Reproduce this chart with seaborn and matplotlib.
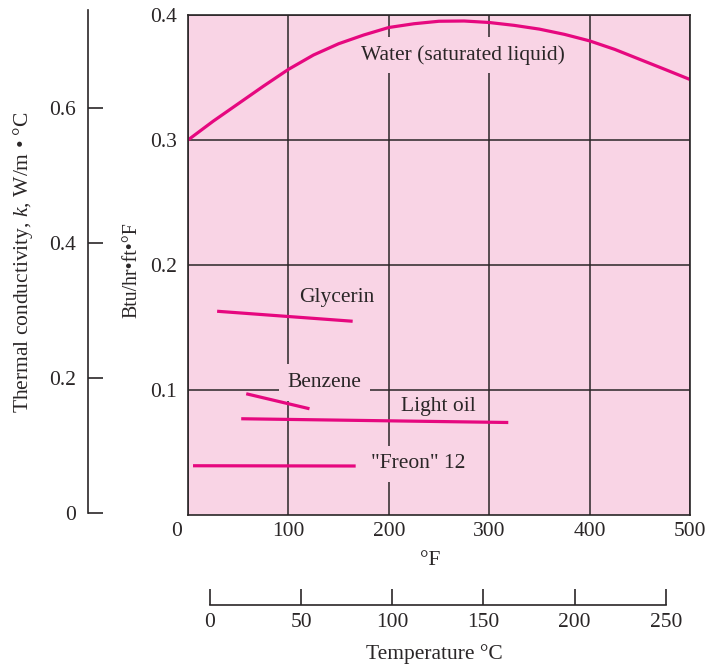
import numpy as np
import pandas as pd
import matplotlib
matplotlib.use("Agg")
import matplotlib.pyplot as plt
import matplotlib.transforms as mtransforms
import seaborn as sns

# =========================================================
# DATA
# =========================================================

water_f = [0, 25, 50, 75, 100, 125, 150, 175, 200, 225, 250, 275, 300,
           325, 350, 375, 400, 425, 450, 475, 500]
water_k = [0.300, 0.315, 0.329, 0.343, 0.3565, 0.368, 0.377, 0.384, 0.390, 0.393,
           0.395, 0.3952, 0.394, 0.3917, 0.3887, 0.3845, 0.3793, 0.3725, 0.3645,
           0.3565, 0.3484]

glycerin_f = [29, 164]
glycerin_k = [0.163, 0.155]

benzene_f = [58, 121]
benzene_k = [0.097, 0.085]

light_oil_f = [53, 319]
light_oil_k = [0.077, 0.074]

freon_f = [5, 167]
freon_k = [0.0394, 0.0392]

label_names = ["Water (saturated liquid)", "Glycerin", "Benzene", "Light oil", '"Freon" 12']
label_f = [274, 148, 136, 249, 229]
label_k = [0.368, 0.174, 0.106, 0.087, 0.041]
label_pad = [0.4, 0.4, 0.4, 0.05, 0.4]

f_ticks = [0, 100, 200, 300, 400, 500]
btu_ticks = [0.1, 0.2, 0.3, 0.4]
si_ticks = [0, 0.2, 0.4, 0.6]
c_ticks = [0, 50, 100, 150, 200, 250]

# =========================================================
# STYLE
# =========================================================

PINK = "#F9D4E5"
MAGENTA = "#E6087F"
DARK = "#2A2627"
FS = 15.5

sns.set_theme(style="white")
plt.rcParams["font.family"] = ["Liberation Serif", "DejaVu Serif"]
plt.rcParams["mathtext.fontset"] = "custom"
plt.rcParams["mathtext.rm"] = "Liberation Serif"
plt.rcParams["mathtext.it"] = "Liberation Serif:italic"
plt.rcParams["text.color"] = DARK
plt.rcParams["axes.labelcolor"] = DARK
plt.rcParams["xtick.color"] = DARK
plt.rcParams["ytick.color"] = DARK

fig = plt.figure(figsize=(7.09, 6.70), dpi=100)
W, H = 709, 670


def fx(px):
    return px / W


def fy(py):
    return 1 - py / H


# =========================================================
# MAIN AXES (Btu/hr-ft-F vs F)
# =========================================================

ax = fig.add_axes([fx(188), fy(515), fx(690) - fx(188), fy(15) - fy(515)])
ax.set_facecolor(PINK)

series = [
    (water_f, water_k),
    (glycerin_f, glycerin_k),
    (benzene_f, benzene_k),
    (light_oil_f, light_oil_k),
    (freon_f, freon_k),
]
for xs, ys in series:
    df = pd.DataFrame({"F": xs, "k": ys})
    sns.lineplot(data=df, x="F", y="k", ax=ax, color=MAGENTA, lw=2.3,
                 zorder=4, solid_capstyle="butt")

for name, x, y, p in zip(label_names, label_f, label_k, label_pad):
    ax.text(x, y, name, ha="center", va="center", fontsize=FS, zorder=3,
            bbox=dict(boxstyle=f"square,pad={p}", fc=PINK, ec="none"))

ax.set_xlim(0, 500)
ax.set_ylim(0, 0.4)
ax.set_xticks(f_ticks)
ax.set_yticks(btu_ticks)
ax.set_xticklabels([str(t) for t in f_ticks])
ax.set_yticklabels([f"{t:.1f}" for t in btu_ticks])
ax.tick_params(axis="both", length=0, labelsize=FS)
ax.tick_params(axis="x", pad=5)
ax.tick_params(axis="y", pad=8)
ax.grid(True, color=DARK, lw=1.1, zorder=1)
ax.set_axisbelow(True)
for s in ax.spines.values():
    s.set_color(DARK)
    s.set_linewidth(1.2)
    s.set_zorder(5)

# shift the corner "0" label a bit to the left
offset = mtransforms.ScaledTranslation(-11 / 100, 0, fig.dpi_scale_trans)
first = ax.get_xticklabels()[0]
first.set_transform(first.get_transform() + offset)

ax.set_xlabel("°F", fontsize=FS)
ax.xaxis.set_label_coords(fx(430), fy(551), transform=fig.transFigure)
ax.set_ylabel("Btu/hr•ft•°F", fontsize=14.3)
ax.yaxis.set_label_coords(fx(141), fy(270), transform=fig.transFigure)

# =========================================================
# LEFT AXIS (W/m-C)
# =========================================================

axl = fig.add_axes([fx(88), fy(513), 0.05, fy(10) - fy(513)])
axl.set_facecolor("none")
axl.set_ylim(0, 0.745)
axl.set_yticks(si_ticks)
axl.set_yticklabels(["0", "0.2", "0.4", "0.6"])
axl.set_xticks([])
for side in ["top", "right", "bottom"]:
    axl.spines[side].set_visible(False)
axl.spines["left"].set_color(DARK)
axl.spines["left"].set_linewidth(1.2)
axl.tick_params(axis="y", direction="in", length=11, width=1.2,
                labelsize=FS, pad=9, left=True)
axl.set_ylabel("Thermal conductivity, $k$, W/m • °C", fontsize=FS)
axl.yaxis.set_label_coords(fx(35), fy(262), transform=fig.transFigure)

# =========================================================
# BOTTOM AXIS (Temperature C)
# =========================================================

axc = fig.add_axes([fx(210), fy(605), fx(665.7) - fx(210), 0.03])
axc.set_facecolor("none")
axc.set_xlim(0, 250)
axc.set_xticks(c_ticks)
axc.set_xticklabels([str(t) for t in c_ticks])
axc.set_yticks([])
for side in ["top", "right", "left"]:
    axc.spines[side].set_visible(False)
axc.spines["bottom"].set_color(DARK)
axc.spines["bottom"].set_linewidth(1.2)
axc.tick_params(axis="x", direction="in", length=11.5, width=1.2,
                labelsize=FS, pad=6, bottom=True)
axc.set_xlabel("Temperature °C", fontsize=FS)
axc.xaxis.set_label_coords(fx(434), fy(644), transform=fig.transFigure)

fig.savefig("out.png", dpi=100)
